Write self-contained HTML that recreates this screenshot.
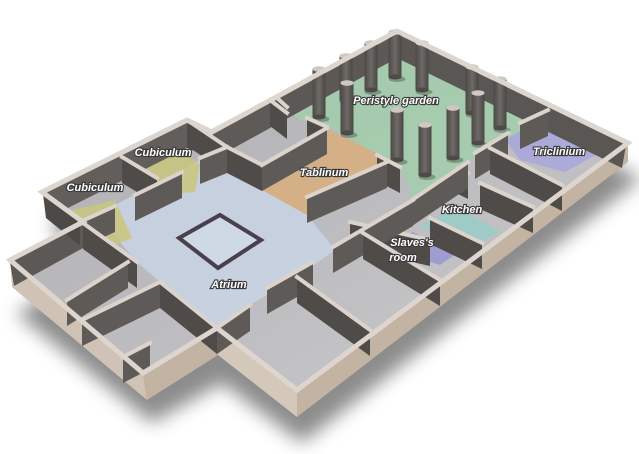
<!DOCTYPE html>
<html><head><meta charset="utf-8"><style>
html,body{margin:0;padding:0;background:#fff;}
svg{display:block}
text{font-family:"Liberation Sans",sans-serif;font-style:italic;font-weight:bold;font-size:11px;fill:#fff;stroke:#3a3a3a;stroke-width:2.2px;paint-order:stroke;}
</style></head><body>
<svg width="639" height="454" viewBox="0 0 639 454" xmlns="http://www.w3.org/2000/svg">
<defs>
<filter id="blur" x="-20%" y="-20%" width="140%" height="140%"><feGaussianBlur stdDeviation="9"/></filter>
<linearGradient id="fl" x1="0" y1="0" x2="1" y2="1"><stop offset="0" stop-color="#acacb0"/><stop offset="1" stop-color="#cbcbce"/></linearGradient>
<linearGradient id="col" x1="0" y1="0" x2="1" y2="0"><stop offset="0" stop-color="#4c4846"/><stop offset="0.5" stop-color="#6e6a67"/><stop offset="1" stop-color="#4a4644"/></linearGradient>
</defs>
<polygon points="48,205 190,135 215,147 400,50 640,160 300,425 220,365 150,405 14,295 85,255" fill="rgba(0,0,0,0.45)" filter="url(#blur)" transform="translate(2,18)"/>
<polygon points="628,143 297,390 297,417 628,162" fill="#c2b3a2"/>
<polygon points="297,390 217,328 218,355 297,417" fill="#d4c8bb"/>
<polygon points="217,328 143,373 147,400 218,355" fill="#c2b3a2"/>
<polygon points="143,373 10,260 12,287 147,400" fill="#d0c3b5"/>
<polygon points="42,192 187,120 212,132 397,31 628,143 297,390 217,328 143,373 10,260 83,222" fill="url(#fl)"/>
<polygon points="212,132 397,31 560,108 515,135 470,160 413,198 400,167 330,128 300,120 285,110" fill="#9fd0a8" opacity="0.75"/>
<polygon points="262,165 330,130 400,165 330,200 307,215 262,190" fill="#dcac78" opacity="0.8"/>
<polygon points="115,205 200,160 262,165 262,190 307,215 335,250 300,275 250,305 217,328 160,282 137,262 105,225" fill="#c8d3e2" opacity="0.9"/>
<polygon points="65,212 115,200 132,238 108,248" fill="#c9c57c" opacity="0.85"/>
<polygon points="140,168 182,150 200,165 195,192 150,195" fill="#c9c57c" opacity="0.85"/>
<polygon points="505,140 548,115 605,150 565,172 520,160" fill="#a7a6dc" opacity="0.85"/>
<polygon points="420,225 458,208 500,232 472,246 440,238" fill="#98cdc7" opacity="0.85"/>
<polygon points="385,248 413,232 456,254 440,265" fill="#9896d2" opacity="0.85"/>
<polygon points="44,194 187,123 187,148 48,218" fill="#625e5b"/>
<polygon points="187,123 212,135 212,158 187,148" fill="#4e4a48"/>
<polygon points="212,135 397,34 397,58 212,160" fill="#5c5856"/>
<polygon points="397,34 626,145 622,168 397,58" fill="#5a5654"/>
<polygon points="10,262 83,224 83,248 14,286" fill="#5c5856"/>
<polygon points="43,194 83,224 83,248 46,218" fill="#4d4947"/>
<polygon points="220,215 261,240 218,268 179,238" fill="#cfd9e6" stroke="#4a3f4c" stroke-width="4" stroke-linejoin="miter"/>
<g id="walls"></g>
<polygon points="42,192 187,120 212,132 397,31 628,143 297,390 217,328 143,373 10,260 83,222" fill="none" stroke="#ded6ce" stroke-width="5" stroke-linejoin="miter"/>
<g>
<text x="163" y="156" text-anchor="middle">Cubiculum</text>
<text x="95" y="191" text-anchor="middle">Cubiculum</text>
<text x="229" y="288" text-anchor="middle">Atrium</text>
<text x="324" y="176" text-anchor="middle">Tablinum</text>
<text x="396" y="104" text-anchor="middle">Peristyle garden</text>
<text x="559" y="155" text-anchor="middle">Triclinium</text>
<text x="462" y="213" text-anchor="middle">Kitchen</text>
<text x="412" y="246" text-anchor="middle">Slaves's</text>
<text x="403" y="261" text-anchor="middle">room</text>
</g>
</svg>
<script>
var W=[
[122,157,157,178],[80,222,115,206],[135,195,182,172],[190,122,227,147],[200,158,227,147],
[227,147,262,165],[210,132,270,100],[270,100,287,113],[277,98,287,107],[262,165,327,128],[307,118,327,127],
[307,197,387,162],[377,155,400,167],[350,222,430,240],[333,247,413,200],[412,200,468,162],[458,168,468,173],
[475,153,508,133],[490,148,562,185],[520,123,548,110],[480,183,533,207],[430,218,482,243],[363,233,440,280],
[297,277,370,330],[267,288,313,262],[217,328,250,305],
[83,223,137,262],[67,300,128,262],[82,320,160,282],[160,282,217,328],[123,357,150,343]
];
var C=[[319,69,117],[346,56,100],[371,43,90],[395,32,77],[422,43,90],[472,67,113],[500,79,128],[347,83,133],[478,93,143],[453,108,158],[397,110,160],[425,125,175]];
var items=[];
W.forEach(function(w){items.push({y:Math.max(w[1],w[3]),t:'w',d:w});});
C.forEach(function(c){items.push({y:c[2],t:'c',d:c});});
items.sort(function(a,b){return a.y-b.y;});
var ns="http://www.w3.org/2000/svg",g=document.getElementById('walls'),H=26;
function el(n,a){var e=document.createElementNS(ns,n);for(var k in a)e.setAttribute(k,a[k]);g.appendChild(e);return e;}
items.forEach(function(it){
 var d=it.d;
 if(it.t=='w'){
  var x1=d[0],y1=d[1],x2=d[2],y2=d[3];
  var slope=(y2-y1)/(x2-x1);
  var f=slope<0?"#5e5a58":"#4f4b49";
  el('polygon',{points:x1+','+y1+' '+x2+','+y2+' '+x2+','+(y2+H)+' '+x1+','+(y1+H),fill:f});
  el('line',{x1:x1,y1:y1,x2:x2,y2:y2,stroke:'#dcd4cc','stroke-width':4,'stroke-linecap':'square'});
 } else {
  var x=d[0],t=d[1],b=d[2],r=6.5;
  el('ellipse',{cx:x+2,cy:b+2,rx:r+2,ry:3,fill:'rgba(0,0,0,0.25)'});
  el('rect',{x:x-r,y:t,width:2*r,height:b-t,fill:'url(#col)'});
  el('ellipse',{cx:x,cy:b,rx:r,ry:2.5,fill:'#4e4a48'});
  el('ellipse',{cx:x,cy:t,rx:r,ry:2.8,fill:'#cfc8c2'});
 }
});
</script>
</body></html>
